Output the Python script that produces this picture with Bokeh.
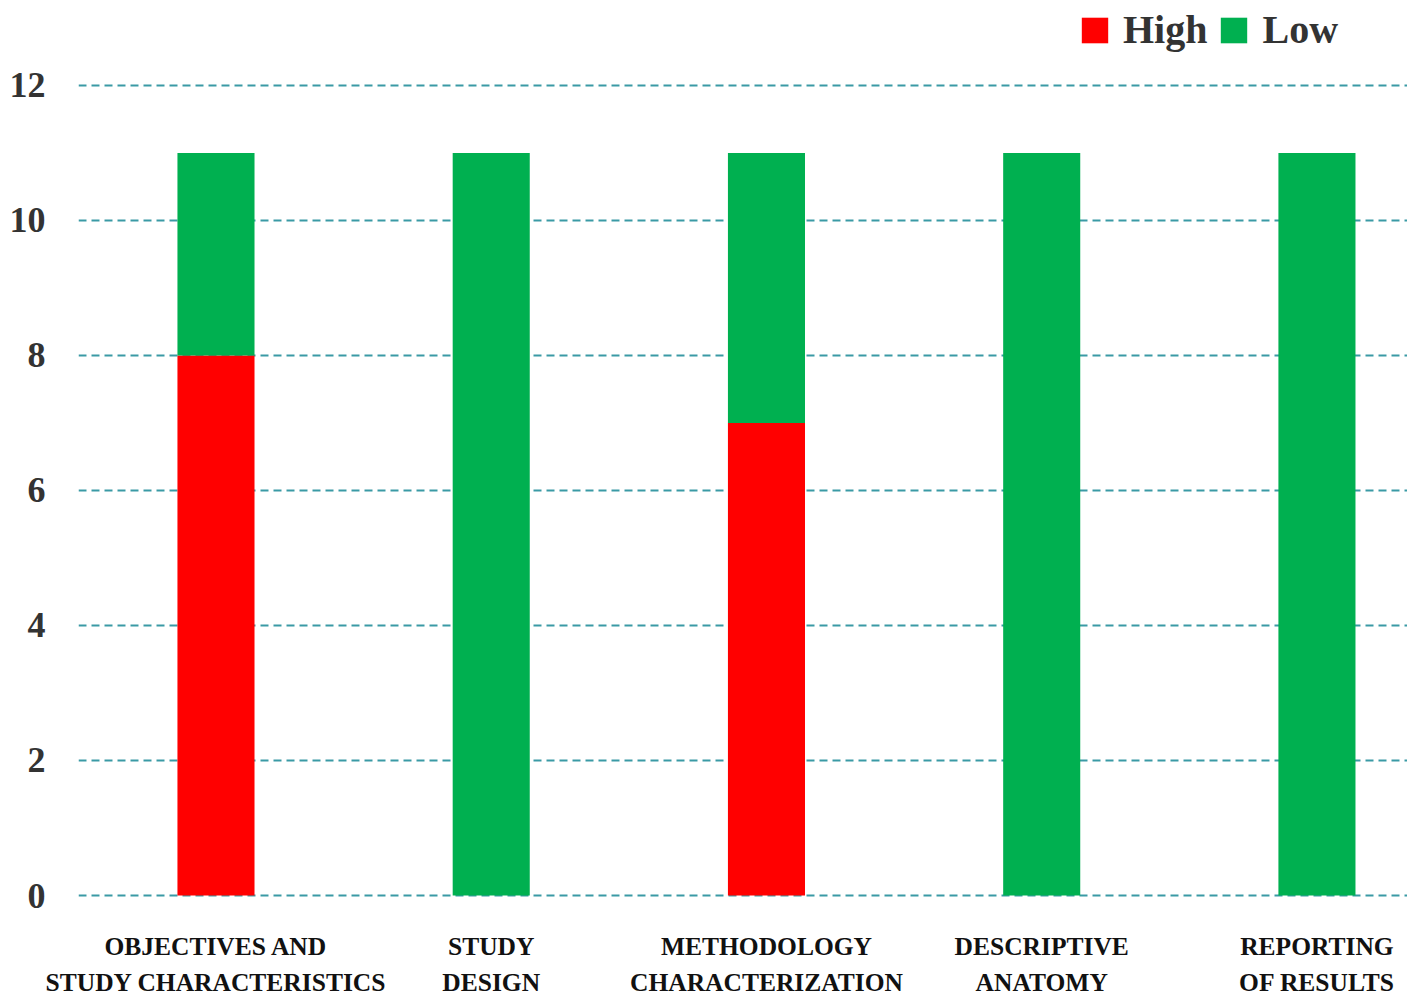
from bokeh.plotting import figure
from bokeh.models import ColumnDataSource, FixedTicker, Range1d, Legend, LegendItem
from bokeh.embed import file_html
from bokeh.resources import INLINE

categories = ["OBJECTIVES AND\nSTUDY CHARACTERISTICS", "STUDY\nDESIGN",
              "METHODOLOGY\nCHARACTERIZATION", "DESCRIPTIVE\nANATOMY",
              "REPORTING\nOF RESULTS"]
high = [8, 0, 7, 0, 0]
low = [3, 11, 4, 11, 11]
y_ticks = [0, 2, 4, 6, 8, 10, 12]

xs = list(range(len(categories)))
src = ColumnDataSource(dict(x=xs, high=high, low=low,
                            top_low=[h + l for h, l in zip(high, low)]))

p = figure(frame_width=1329, frame_height=895,
           min_border_left=78, min_border_right=0, min_border_top=8, min_border_bottom=86,
           x_range=Range1d(-0.4995, 4.329), y_range=Range1d(-0.1185, 13.14),
           output_backend="svg", toolbar_location=None)

r_high = p.vbar(x="x", bottom=0, top="high", width=0.28, color="#ff0000", line_color=None, source=src)
r_low = p.vbar(x="x", bottom="high", top="top_low", width=0.28, color="#00b050", line_color=None, source=src)

p.outline_line_color = None
p.background_fill_color = "white"
p.xgrid.grid_line_color = None
p.ygrid.ticker = FixedTicker(ticks=y_ticks)
p.ygrid.grid_line_color = "#3a9aa5"
p.ygrid.grid_line_width = 2.2
p.ygrid.grid_line_dash = "8 5"

p.yaxis.ticker = FixedTicker(ticks=y_ticks)
p.yaxis.axis_line_color = None
p.yaxis.major_tick_line_color = None
p.yaxis.minor_tick_line_color = None
p.yaxis.major_label_standoff = 27
p.yaxis.major_label_text_font = "Liberation Serif"
p.yaxis.major_label_text_font_style = "bold"
p.yaxis.major_label_text_font_size = "36px"
p.yaxis.major_label_text_color = "#333333"

p.xaxis.ticker = FixedTicker(ticks=xs)
p.xaxis.major_label_overrides = {i: c for i, c in enumerate(categories)}
p.xaxis.axis_line_color = None
p.xaxis.major_tick_line_color = None
p.xaxis.minor_tick_line_color = None
p.xaxis.major_label_standoff = 22
p.xaxis.major_label_text_font = "Liberation Serif"
p.xaxis.major_label_text_font_style = "bold"
p.xaxis.major_label_text_font_size = "25.5px"
p.xaxis.major_label_text_color = "#111111"
p.xaxis.major_label_text_line_height = 1.26

legend = Legend(items=[LegendItem(label="High", renderers=[r_high]),
                       LegendItem(label="Low", renderers=[r_low])],
                orientation="horizontal", location=(1000, 850),
                glyph_width=33, glyph_height=32, label_standoff=12, spacing=10,
                padding=0, margin=0, background_fill_alpha=0, border_line_color=None,
                label_text_font="Liberation Serif", label_text_font_style="bold",
                label_text_font_size="40px", label_text_color="#333333")
p.add_layout(legend)

open("out.html", "w").write(file_html(p, INLINE))
